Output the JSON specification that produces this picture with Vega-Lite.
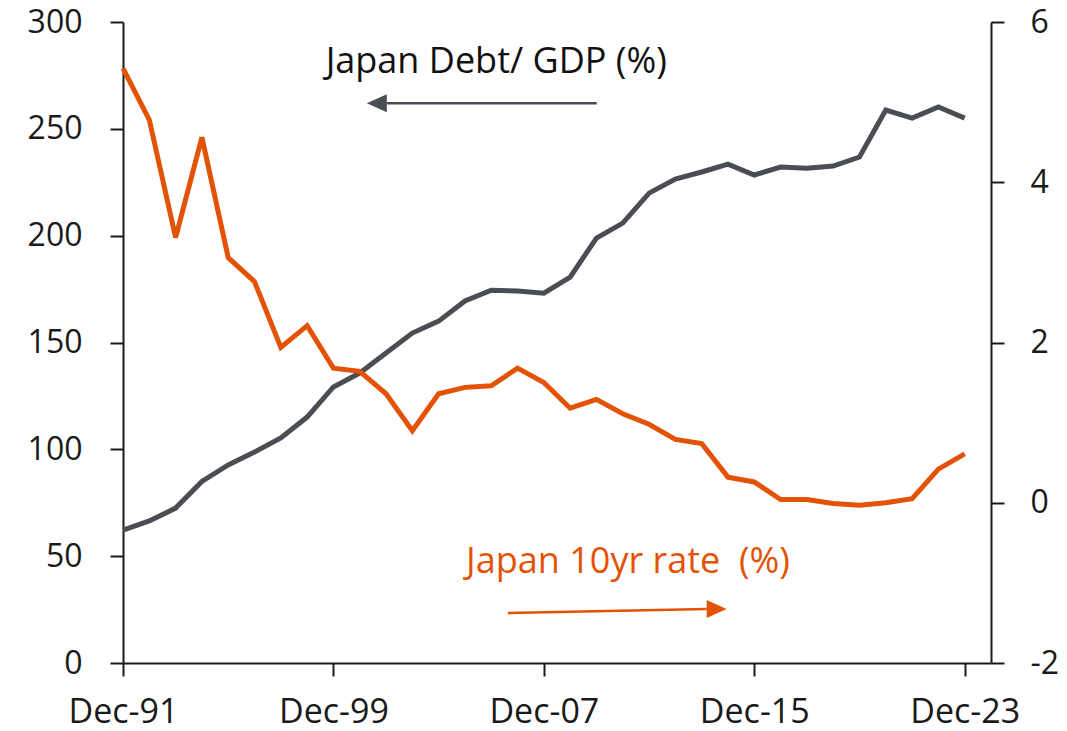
{
  "$schema": "https://vega.github.io/schema/vega-lite/v6.json",
  "autosize": "none",
  "width": 868,
  "height": 641,
  "padding": {"left": 123, "top": 22, "right": 76, "bottom": 68},
  "background": "white",
  "config": {
    "view": {"stroke": null},
    "font": "Open Sans",
    "axis": {
      "grid": false,
      "domainColor": "#1a1a1a",
      "domainWidth": 2,
      "tickColor": "#1a1a1a",
      "tickWidth": 2,
      "tickSize": 13,
      "labelFont": "Open Sans",
      "labelFontSize": 32,
      "labelColor": "#1a1a1a",
      "labelFlush": false,
      "labelOverlap": false,
      "labelBound": false,
      "title": null
    }
  },
  "datasets": {
    "series": [
      {"year": 1991, "debt": 62.2, "rate": 5.42},
      {"year": 1992, "debt": 66.5, "rate": 4.78},
      {"year": 1993, "debt": 72.5, "rate": 3.31},
      {"year": 1994, "debt": 85.0, "rate": 4.56},
      {"year": 1995, "debt": 92.7, "rate": 3.06},
      {"year": 1996, "debt": 98.7, "rate": 2.76},
      {"year": 1997, "debt": 105.3, "rate": 1.94},
      {"year": 1998, "debt": 115.1, "rate": 2.21},
      {"year": 1999, "debt": 129.2, "rate": 1.68},
      {"year": 2000, "debt": 135.7, "rate": 1.64},
      {"year": 2001, "debt": 145.1, "rate": 1.36},
      {"year": 2002, "debt": 154.4, "rate": 0.90},
      {"year": 2003, "debt": 160.0, "rate": 1.36},
      {"year": 2004, "debt": 169.4, "rate": 1.44},
      {"year": 2005, "debt": 174.5, "rate": 1.46},
      {"year": 2006, "debt": 174.1, "rate": 1.68},
      {"year": 2007, "debt": 173.1, "rate": 1.50},
      {"year": 2008, "debt": 180.6, "rate": 1.18},
      {"year": 2009, "debt": 198.9, "rate": 1.29},
      {"year": 2010, "debt": 205.9, "rate": 1.11},
      {"year": 2011, "debt": 219.9, "rate": 0.98},
      {"year": 2012, "debt": 226.5, "rate": 0.79},
      {"year": 2013, "debt": 229.8, "rate": 0.74},
      {"year": 2014, "debt": 233.5, "rate": 0.32},
      {"year": 2015, "debt": 228.4, "rate": 0.26},
      {"year": 2016, "debt": 232.1, "rate": 0.04},
      {"year": 2017, "debt": 231.6, "rate": 0.04},
      {"year": 2018, "debt": 232.6, "rate": -0.01},
      {"year": 2019, "debt": 236.8, "rate": -0.03},
      {"year": 2020, "debt": 258.8, "rate": 0.00},
      {"year": 2021, "debt": 255.0, "rate": 0.05},
      {"year": 2022, "debt": 260.2, "rate": 0.42},
      {"year": 2023, "debt": 255.0, "rate": 0.61}
    ],
    "labels": [
      {"key": "debt", "x": 2005.19, "y": 276.0, "text": "Japan Debt/ GDP (%)"},
      {"key": "rate", "x": 2010.2, "y": 42.1, "text": "Japan 10yr rate \u00a0(%)"}
    ],
    "arrows": [
      {"key": "debt", "x": 2009.01, "x2": 2001.03, "y": 261.95, "y2": 261.95, "hx": 2000.65, "hy": 261.95},
      {"key": "rate", "x": 2005.63, "x2": 2013.19, "y": 23.4, "y2": 25.27, "hx": 2013.57, "hy": 25.27}
    ]
  },
  "resolve": {"scale": {"y": "independent"}},
  "layer": [
    {
      "layer": [
        {
          "data": {"name": "series"},
          "mark": {"type": "line", "color": "#4a4e54", "strokeWidth": 5, "strokeJoin": "miter"},
          "encoding": {
            "x": {"field": "year", "type": "quantitative",
                  "scale": {"domain": [1991, 2024], "nice": false, "zero": false},
                  "axis": {"values": [1991, 1999, 2007, 2015, 2023],
                           "labelExpr": "'Dec-' + substring(toString(datum.value), 2)",
                           "labelFontSize": 34, "labelBaseline": "alphabetic",
                           "labelPadding": 46, "title": null}},
            "y": {"field": "debt", "type": "quantitative",
                  "scale": {"domain": [0, 300], "nice": false},
                  "axis": {"orient": "left", "values": [0, 50, 100, 150, 200, 250, 300],
                           "labelPadding": 28, "title": null}}
          }
        },
        {
          "data": {"name": "labels"},
          "transform": [{"filter": "datum.key == 'debt'"}],
          "mark": {"type": "text", "font": "Open Sans", "fontSize": 36, "color": "#111111", "align": "center", "baseline": "alphabetic"},
          "encoding": {
            "x": {"field": "x", "type": "quantitative", "title": null},
            "y": {"field": "y", "type": "quantitative", "scale": {"domain": [0, 300], "nice": false}, "title": null},
            "text": {"field": "text"}
          }
        },
        {
          "data": {"name": "labels"},
          "transform": [{"filter": "datum.key == 'rate'"}],
          "mark": {"type": "text", "font": "Open Sans", "fontSize": 36, "color": "#e35205", "align": "center", "baseline": "alphabetic"},
          "encoding": {
            "x": {"field": "x", "type": "quantitative", "title": null},
            "y": {"field": "y", "type": "quantitative", "scale": {"domain": [0, 300], "nice": false}, "title": null},
            "text": {"field": "text"}
          }
        },
        {
          "data": {"name": "arrows"},
          "transform": [{"filter": "datum.key == 'debt'"}],
          "mark": {"type": "rule", "color": "#4a4e54", "strokeWidth": 2.5},
          "encoding": {
            "x": {"field": "x", "type": "quantitative", "title": null},
            "x2": {"field": "x2"},
            "y": {"field": "y", "type": "quantitative", "scale": {"domain": [0, 300], "nice": false}, "title": null},
            "y2": {"field": "y2"}
          }
        },
        {
          "data": {"name": "arrows"},
          "transform": [{"filter": "datum.key == 'debt'"}],
          "mark": {"type": "point", "filled": true, "color": "#4a4e54", "opacity": 1, "size": 400, "shape": "M -1 0 L 1 -0.9 L 1 0.9 Z"},
          "encoding": {
            "x": {"field": "hx", "type": "quantitative", "title": null},
            "y": {"field": "hy", "type": "quantitative", "scale": {"domain": [0, 300], "nice": false}, "title": null}
          }
        },
        {
          "data": {"name": "arrows"},
          "transform": [{"filter": "datum.key == 'rate'"}],
          "mark": {"type": "rule", "color": "#e35205", "strokeWidth": 2.5},
          "encoding": {
            "x": {"field": "x", "type": "quantitative", "title": null},
            "x2": {"field": "x2"},
            "y": {"field": "y", "type": "quantitative", "scale": {"domain": [0, 300], "nice": false}, "title": null},
            "y2": {"field": "y2"}
          }
        },
        {
          "data": {"name": "arrows"},
          "transform": [{"filter": "datum.key == 'rate'"}],
          "mark": {"type": "point", "filled": true, "color": "#e35205", "opacity": 1, "size": 400, "shape": "M 1 0 L -1 -0.9 L -1 0.9 Z"},
          "encoding": {
            "x": {"field": "hx", "type": "quantitative", "title": null},
            "y": {"field": "hy", "type": "quantitative", "scale": {"domain": [0, 300], "nice": false}, "title": null}
          }
        }
      ]
    },
    {
      "data": {"name": "series"},
      "mark": {"type": "line", "color": "#e35205", "strokeWidth": 5, "strokeJoin": "miter"},
      "encoding": {
        "x": {"field": "year", "type": "quantitative", "title": null},
        "y": {"field": "rate", "type": "quantitative",
              "scale": {"domain": [-2, 6], "nice": false, "zero": false},
              "axis": {"orient": "right", "values": [-2, 0, 2, 4, 6],
                       "labelExpr": "toString(datum.value)",
                       "labelAlign": "left", "labelPadding": 26, "title": null}}
      }
    }
  ]
}
